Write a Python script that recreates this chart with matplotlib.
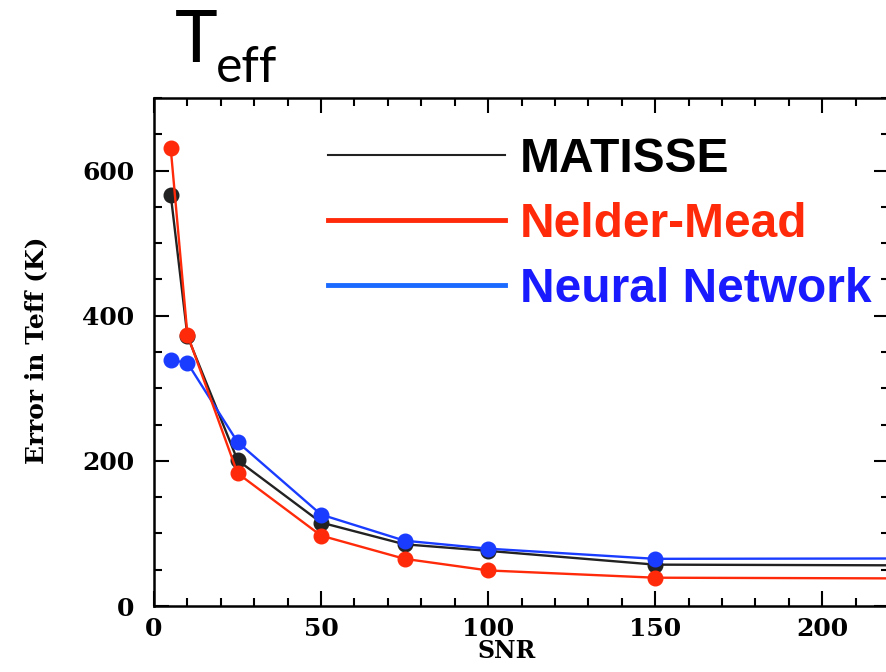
import matplotlib
matplotlib.use('Agg')
import matplotlib.pyplot as plt
from matplotlib.lines import Line2D
from matplotlib.ticker import MultipleLocator

# SNR values (the last point lies beyond the visible range, the curves run off the right edge)
snr = [5, 10, 25, 50, 75, 100, 150, 300]

# Error in Teff (K) for each method
matisse = [567, 372, 201, 115, 85, 76, 57, 55]
nelder_mead = [631, 374, 183, 97, 65, 49, 39, 37]
neural_net = [339, 335, 226, 126, 90, 79, 65, 66]

labels = ['MATISSE', 'Nelder-Mead', 'Neural Network']
line_colors = ['#222222', '#ff2a0a', '#1a3cff']
text_colors = ['black', '#ff2a0a', '#1a1aff']

W, H = 886, 672
fig = plt.figure(figsize=(W / 100, H / 100), dpi=100)

# axes box, right edge falls just outside the picture
left, right, bottom, top = 154, 889, 606, 98
ax = fig.add_axes([left / W, 1 - bottom / H, (right - left) / W, (bottom - top) / H])

ax.plot(snr, matisse, color=line_colors[0], lw=1.7, marker='o', ms=10.5, zorder=3)
ax.plot(snr, neural_net, color=line_colors[2], lw=1.7, marker='o', ms=10.5, zorder=4)
ax.plot(snr, nelder_mead, color=line_colors[1], lw=1.7, marker='o', ms=10.5, zorder=5)

ax.set_xlim(0, 220)
ax.set_ylim(0, 700)
ax.xaxis.set_major_locator(MultipleLocator(50))
ax.xaxis.set_minor_locator(MultipleLocator(10))
ax.yaxis.set_major_locator(MultipleLocator(200))
ax.yaxis.set_minor_locator(MultipleLocator(50))
ax.tick_params(which='both', direction='in', top=True, right=True, width=1.5)
ax.tick_params(which='major', length=11)
ax.tick_params(which='minor', length=6)
ax.tick_params(axis='x', pad=8)
ax.tick_params(axis='y', pad=14)
for sp in ax.spines.values():
    sp.set_linewidth(1.8)

tick_font = dict(family='DejaVu Serif', weight='bold', size=18)
for lab in ax.get_xticklabels() + ax.get_yticklabels():
    lab.set_fontproperties(tick_font)

fig.text(507 / W, 1 - 651 / H, 'SNR', ha='center', va='center',
         family='DejaVu Serif', weight='bold', size=17)
fig.text(36 / W, 1 - 350 / H, 'Error in Teff (K)', ha='center', va='center',
         rotation=90, family='DejaVu Serif', weight='bold', size=18)

# legend: lines only, coloured bold labels
handles = [Line2D([], [], color=line_colors[0], lw=1.5),
           Line2D([], [], color=line_colors[1], lw=3.5),
           Line2D([], [], color='#1a6aff', lw=3.5)]
leg = ax.legend(handles, labels, loc='upper left',
                bbox_to_anchor=((328 - left) / (right - left), (bottom - 137) / (bottom - top)),
                frameon=False, borderpad=0, borderaxespad=0,
                handlelength=3.7, handletextpad=0.3, labelspacing=0.42,
                prop=dict(family='Liberation Sans', weight='bold', size=34.5))
for txt, c in zip(leg.get_texts(), text_colors):
    txt.set_color(c)

# title T_eff
fig.text(175 / W, 1 - 62 / H, 'T', ha='left', va='baseline', family='Lato', size=52)
fig.text(216 / W, 1 - 82 / H, 'eff', ha='left', va='baseline', family='Lato', size=36)

fig.savefig('out.png', dpi=100)
